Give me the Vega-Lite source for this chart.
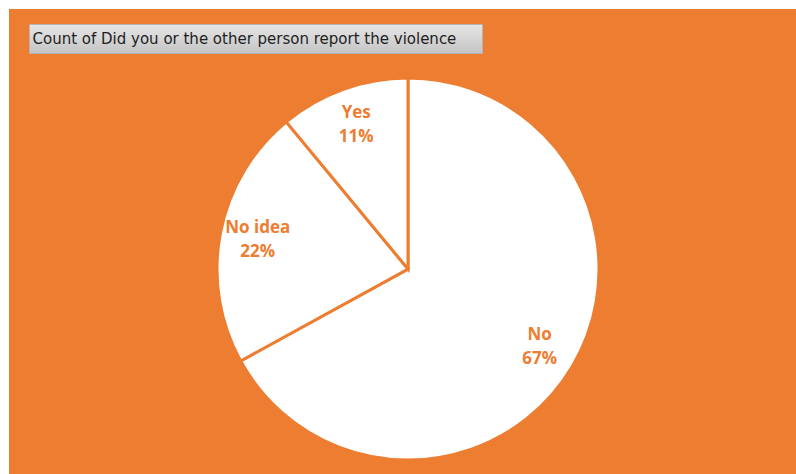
{
  "$schema": "https://vega.github.io/schema/vega-lite/v6.json",
  "background": "#ED7D31",
  "padding": 0,
  "autosize": {"type": "pad"},
  "config": {"view": {"stroke": null}},
  "spacing": 0,
  "hconcat": [
    {
      "width": 9, "height": 474,
      "view": {"fill": "white", "stroke": null},
      "data": {"values": [{}]},
      "mark": {"type": "point", "opacity": 0},
      "encoding": {}
    },
    {
      "spacing": 0,
      "vconcat": [
        {
          "width": 787, "height": 9,
          "view": {"fill": "white", "stroke": null},
          "data": {"values": [{}]},
          "mark": {"type": "point", "opacity": 0},
          "encoding": {}
        },
        {
          "width": 787, "height": 14,
          "data": {"values": [{}]},
          "mark": {"type": "point", "opacity": 0},
          "encoding": {}
        },
        {
          "spacing": 0,
          "hconcat": [
            {
              "width": 19, "height": 29,
              "data": {"values": [{}]},
              "mark": {"type": "point", "opacity": 0},
              "encoding": {}
            },
            {
              "width": 453, "height": 29,
              "view": {
                "fill": {"gradient": "linear", "x1": 0, "y1": 0, "x2": 0, "y2": 1,
                  "stops": [{"offset": 0, "color": "#e6e6e6"}, {"offset": 1, "color": "#c4c4c4"}]},
                "stroke": "#b4b4b4",
                "strokeWidth": 1
              },
              "data": {"values": [{"title": "Count of Did you or the other person report the violence"}]},
              "mark": {"type": "text", "font": "DejaVu Sans", "fontSize": 15, "color": "#1e1e1e", "align": "left", "baseline": "middle", "dx": -223},
              "encoding": {"text": {"field": "title", "type": "nominal"}}
            }
          ]
        },
        {
          "width": 787, "height": 8,
          "data": {"values": [{}]},
          "mark": {"type": "point", "opacity": 0},
          "encoding": {}
        },
        {
          "spacing": 0,
          "hconcat": [
            {
              "width": 11, "height": 414,
              "data": {"values": [{}]},
              "mark": {"type": "point", "opacity": 0},
              "encoding": {}
            },
            {
              "width": 776, "height": 414,
              "data": {"values": [
                {"answer": "No", "share": 67, "label": "No\n67%"},
                {"answer": "No idea", "share": 22, "label": "No idea\n22%"},
                {"answer": "Yes", "share": 11, "label": "Yes\n11%"}
              ]},
              "encoding": {
                "theta": {"field": "share", "type": "quantitative", "stack": true}
              },
              "layer": [
                {
                  "mark": {"type": "arc", "outerRadius": 191, "fill": "white", "stroke": "#ED7D31", "strokeWidth": 3}
                },
                {
                  "mark": {"type": "text", "radius": 153, "font": "Open Sans", "fontSize": 17, "fontWeight": "bold", "color": "#ED7D31", "lineBreak": "\n", "lineHeight": 24, "baseline": "middle", "align": "center", "dy": -12},
                  "encoding": {"text": {"field": "label", "type": "nominal"}}
                }
              ]
            }
          ]
        }
      ]
    }
  ]
}
